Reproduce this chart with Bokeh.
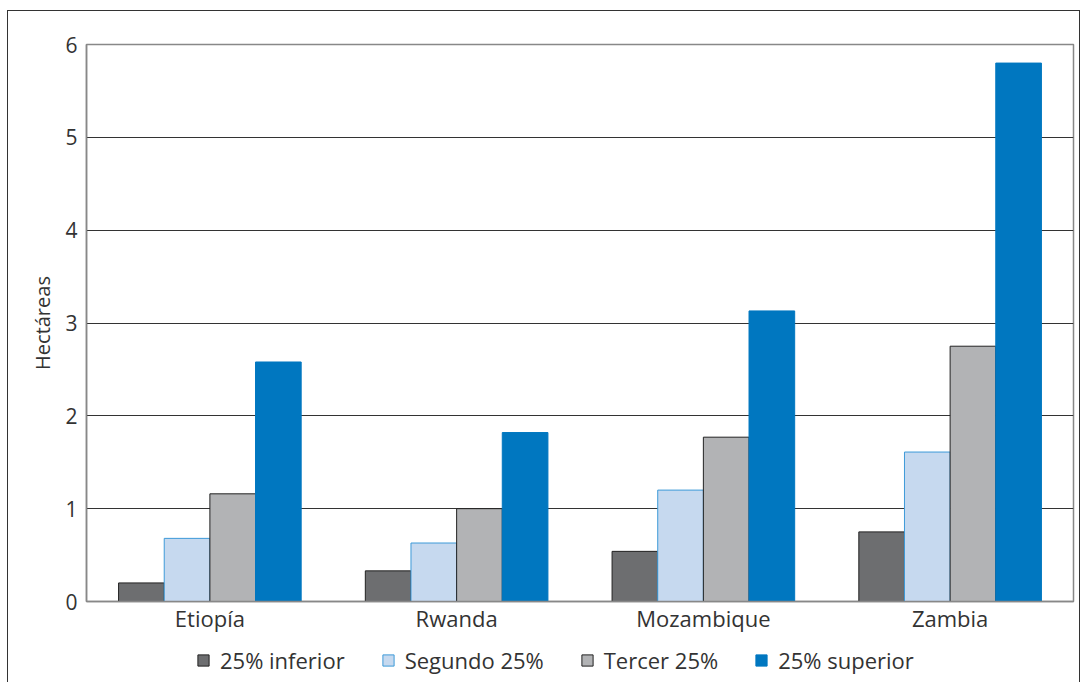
from bokeh.plotting import figure
from bokeh.models import Legend, LegendItem, FactorRange, ColumnDataSource
from bokeh.layouts import column
from bokeh.transform import dodge
from bokeh.embed import file_html
from bokeh.resources import INLINE

countries = ["Etiopía", "Rwanda", "Mozambique", "Zambia"]
series_names = ["25% inferior", "Segundo 25%", "Tercer 25%", "25% superior"]
inferior = [0.20, 0.33, 0.54, 0.75]
segundo = [0.68, 0.63, 1.20, 1.61]
tercer = [1.16, 1.00, 1.77, 2.75]
superior = [2.58, 1.82, 3.13, 5.80]
y_ticks = [0, 1, 2, 3, 4, 5, 6]

FONT = "Open Sans"
fills = ["#6d6e70", "#c6d9ef", "#b2b3b5", "#0077c0"]
lines = ["#222222", "#3d9ad8", "#222222", "#0077c0"]

data = dict(country=countries, s0=inferior, s1=segundo, s2=tercer, s3=superior)

p = figure(x_range=FactorRange(*countries), y_range=(0, 6), width=1071, height=624,
           output_backend="svg", toolbar_location=None,
           min_border_left=78, min_border_right=6, min_border_top=33, min_border_bottom=10)

w = 0.185
offsets = [-1.5 * w, -0.5 * w, 0.5 * w, 1.5 * w]
for i, key in enumerate(["s0", "s1", "s2", "s3"]):
    p.vbar(x=dodge("country", offsets[i], range=p.x_range), top=key, width=w,
           source=data, fill_color=fills[i], line_color=lines[i], line_width=1)

p.xgrid.grid_line_color = None
p.ygrid.grid_line_color = "#333333"
p.ygrid.grid_line_width = 1
p.yaxis.ticker = y_ticks
p.outline_line_color = "#888888"
p.outline_line_width = 1.5

for ax in (p.xaxis, p.yaxis):
    ax.axis_line_color = "#888888"
    ax.axis_line_width = 1.5
    ax.major_tick_line_color = None
    ax.minor_tick_line_color = None
    ax.major_label_text_font = FONT
    ax.major_label_text_color = "#333"

p.xaxis.major_label_text_font_size = "22px"
p.yaxis.major_label_text_font_size = "21px"
p.xaxis.major_label_standoff = -5
p.yaxis.major_label_standoff = 3
p.yaxis.axis_label = "Hectáreas"
p.yaxis.axis_label_text_font = FONT
p.yaxis.axis_label_text_font_style = "normal"
p.yaxis.axis_label_text_font_size = "20px"
p.yaxis.axis_label_text_color = "#333"
p.yaxis.axis_label_standoff = 6
p.x_range.range_padding = 0
p.x_range.group_padding = 0

# legend strip
lf = figure(width=1071, height=47, output_backend="svg", toolbar_location=None,
            x_axis_type=None, y_axis_type=None, x_range=(0, 1), y_range=(0, 1),
            min_border=0)
lf.outline_line_color = None
lf.grid.grid_line_color = None
hidden = ColumnDataSource(dict(x=[-10], top=[-10]))
lrs = []
for i in range(4):
    lrs.append(lf.vbar(x="x", top="top", width=0.1, source=hidden,
                       fill_color=fills[i], line_color=lines[i], line_width=1))
legend = Legend(items=[LegendItem(label=series_names[i], renderers=[lrs[i]]) for i in range(4)],
                orientation="horizontal", location=(110, 7),
                border_line_color=None, background_fill_alpha=0,
                label_text_font=FONT, label_text_font_size="22px", label_text_color="#333",
                glyph_width=14, glyph_height=14, spacing=36, label_standoff=10,
                padding=0, margin=0)
lf.add_layout(legend, "center")

layout = column(p, lf, spacing=0,
                styles={"border-left": "1.5px solid #333", "border-top": "1.5px solid #333",
                        "border-right": "1.5px solid #333", "margin-left": "7px",
                        "margin-top": "10px"})

open("out.html", "w").write(file_html(layout, INLINE))
